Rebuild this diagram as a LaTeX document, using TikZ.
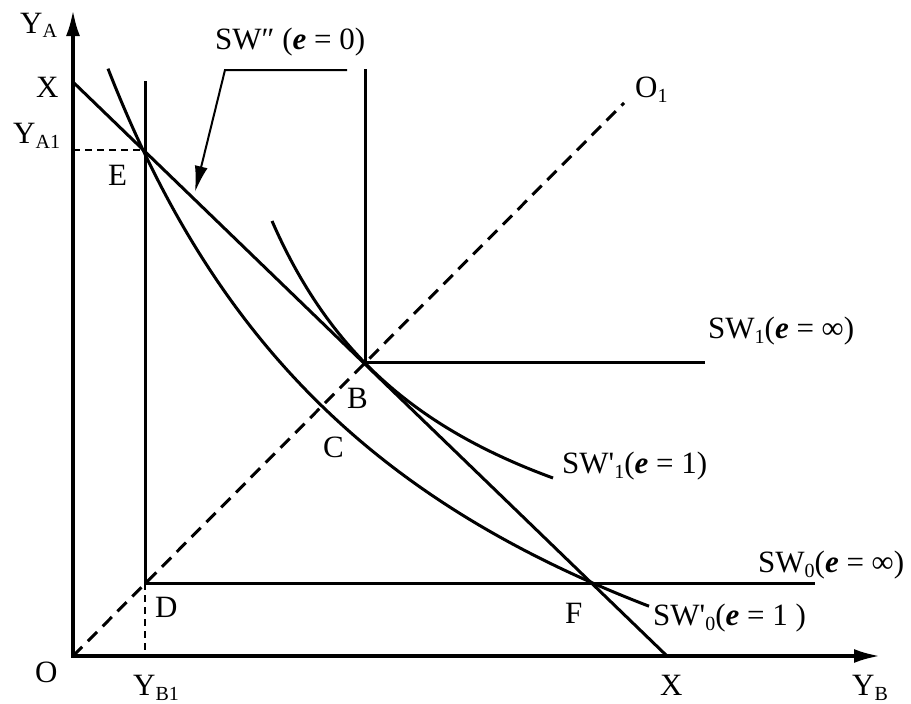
\documentclass[tikz,border=0pt]{standalone}
\usepackage{fontspec}
\setmainfont{Liberation Serif}[Ligatures=TeXOff]
\usetikzlibrary{arrows.meta}
\newcommand\lsub[1]{\raisebox{-5pt}{\fontsize{20}{20}\selectfont #1}}
\newcommand\ee{\textbf{\textit{e}}}
\begin{document}
\begin{tikzpicture}[x=1pt,y=-1pt,
  every node/.style={font=\fontsize{31}{31}\selectfont, inner sep=0},
  lbl/.style={anchor=base west},
  curve/.style={line width=3pt},
  axislines/.style={line width=3.5pt, line join=miter,
     {Latex[length=26pt,width=14pt]}-{Latex[length=26pt,width=14pt]}},
  diag/.style={line width=3pt, dash pattern=on 13pt off 8pt},
  guide/.style={line width=1.8pt, dash pattern=on 7pt off 5pt},
  callout/.style={line width=2pt, -{Latex[length=26pt,width=13pt]}}]
\useasboundingbox (0,0) rectangle (911,704);
% key points
\coordinate (O) at (73,656);
\coordinate (YAtip) at (73,10);
\coordinate (YBtip) at (880,656);
\coordinate (Xa) at (73,82);
\coordinate (Xb) at (667,656);
\coordinate (E) at (145,150);
\coordinate (YA1pt) at (73,150);
\coordinate (D) at (145,583);
\coordinate (YB1pt) at (145,656);
\coordinate (SWzeroTop) at (145,81);
\coordinate (SWzeroEnd) at (815,583);
\coordinate (B) at (365,362);
\coordinate (SWoneTop) at (365,69);
\coordinate (SWoneEnd) at (705,362);
\coordinate (Oone) at (624,103);
\coordinate (cA) at (347,70);
\coordinate (cB) at (225,70);
\coordinate (cTip) at (195,192);
% axes
\draw[axislines] (YAtip) -- (O) -- (YBtip);
% budget line X-X
\draw[curve] (Xa) -- (Xb);
% L-shaped curves
\draw[curve] (SWzeroTop) -- (D) -- (SWzeroEnd);
\draw[curve] (SWoneTop) -- (B) -- (SWoneEnd);
% diagonal
\draw[diag] (O) -- (Oone);
% guides
\draw[guide] (YA1pt) -- (E);
\draw[guide] (D) -- (YB1pt);
% SW'0 curve
\draw[curve] plot[domain=35:576, samples=80, smooth]
   ({73+\x},{656+291-3012.66/((\x+308)/100)});
% SW'1 curve
\draw[curve] plot[domain=199:480, samples=60, smooth]
   ({73+\x},{656-6.22-805.33/((\x-11.18)/100)});
% callout arrow
\draw[callout] (cA) -- (cB) -- (cTip);
% labels
\node[lbl] (lYA) at (20,33) {Y\lsub{A}};
\node[lbl] (lX1) at (36,97) {X};
\node[lbl] (lYA1) at (13,143) {Y\lsub{A1}};
\node[lbl] (lE) at (108,185) {E};
\node[lbl] (lSWpp) at (215,49) {SW″ (\ee{} = 0)};
\node[lbl] (lO1) at (635,97) {O\lsub{1}};
\node[lbl] (lSW1) at (708,338) {SW\lsub{1}(\ee{} = ∞)};
\node[lbl] (lB) at (347,408) {B};
\node[lbl] (lC) at (323,457) {C};
\node[lbl] (lSWp1) at (562,473) {SW'\lsub{1}(\ee{} = 1)};
\node[lbl] (lSW0) at (758,572) {SW\lsub{0}(\ee{} = ∞)};
\node[lbl] (lD) at (155,617) {D};
\node[lbl] (lF) at (565,623) {F};
\node[lbl] (lSWp0) at (653,625) {SW'\lsub{0}(\ee{} = 1 )};
\node[lbl] (lO) at (35,682) {O};
\node[lbl] (lYB1) at (133,695) {Y\lsub{B1}};
\node[lbl] (lX2) at (660,695) {X};
\node[lbl] (lYB) at (852,695) {Y\lsub{B}};
\end{tikzpicture}
\end{document}
